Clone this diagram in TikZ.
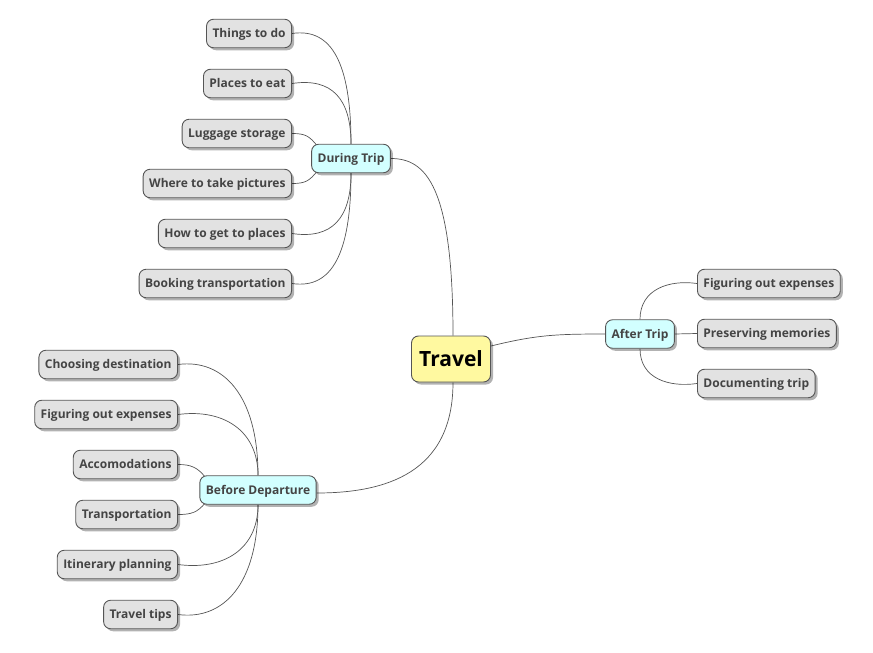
\documentclass[tikz,border=0pt]{standalone}
\usepackage{fontspec}
\setmainfont{Open Sans}
\usetikzlibrary{shadows,backgrounds}
\definecolor{leafgray}{HTML}{E2E2E2}
\definecolor{midcyan}{HTML}{D2FFFF}
\definecolor{rootyellow}{HTML}{FFF9A0}
\definecolor{edgecol}{HTML}{555555}
\definecolor{txtcol}{HTML}{444444}
\tikzset{
  base/.style={draw=edgecol, line width=0.9pt, rounded corners=7pt, minimum height=28.5pt,
    inner xsep=6pt, inner ysep=0pt, text=txtcol, text height=8.6pt, text depth=0pt,
    font=\bfseries\fontsize{12}{14}\selectfont,
    drop shadow={shadow xshift=2.5pt, shadow yshift=-2.5pt, fill=black, opacity=0.3}},
  leaf/.style={base, fill=leafgray},
  mid/.style={base, fill=midcyan},
  rootn/.style={base, fill=rootyellow, minimum height=46pt, minimum width=79pt, text=black,
    text height=15pt, font=\bfseries\fontsize{21}{24}\selectfont},
  conn/.style={draw=edgecol, line width=0.7pt}
}
\begin{document}
\begin{tikzpicture}[x=1pt,y=-1pt]
\useasboundingbox (0,0) rectangle (873,653);
% root and level 1
\node[rootn] (travel) at (451,359) {Travel};
\node[mid] (dt) at (351,158.5) {During Trip};
\node[mid] (at) at (640,334) {After Trip};
\node[mid] (bd) at (258,490) {Before Departure};
% During Trip children
\node[leaf, anchor=east] (d1) at (292,33.5) {Things to do};
\node[leaf, anchor=east] (d2) at (292,83.5) {Places to eat};
\node[leaf, anchor=east] (d3) at (292,133.5) {Luggage storage};
\node[leaf, anchor=east] (d4) at (292,183.5) {Where to take pictures};
\node[leaf, anchor=east] (d5) at (292,233.5) {How to get to places};
\node[leaf, anchor=east] (d6) at (292,283.5) {Booking transportation};
% After Trip children
\node[leaf, anchor=west] (a1) at (697,283.5) {Figuring out expenses};
\node[leaf, anchor=west] (a2) at (697,333.5) {Preserving memories};
\node[leaf, anchor=west] (a3) at (697,383.5) {Documenting trip};
% Before Departure children
\node[leaf, anchor=east] (b1) at (178,364.5) {Choosing destination};
\node[leaf, anchor=east] (b2) at (178,414.5) {Figuring out expenses};
\node[leaf, anchor=east] (b3) at (178,464.5) {Accomodations};
\node[leaf, anchor=east] (b4) at (178,514.5) {Transportation};
\node[leaf, anchor=east] (b5) at (178,564.5) {Itinerary planning};
\node[leaf, anchor=east] (b6) at (178,614.5) {Travel tips};
\begin{scope}[on background layer]
% root connectors
\draw[conn] ([xshift=2pt]travel.north) .. controls +(0,-150) and +(35,0) .. (dt.east);
\draw[conn] ([yshift=13pt]travel.east) .. controls +(45,-11) and +(-50,0) .. (at.west);
\draw[conn] ([xshift=2pt]travel.south) .. controls +(0,90) and +(70,0) .. ([yshift=-3pt]bd.east);
% During Trip
\draw[conn] (dt.north) .. controls +(0,-80) and +(40,-6) .. (d1.east);
\draw[conn] (dt.north) .. controls +(0,-45) and +(40,-6) .. (d2.east);
\draw[conn] ([xshift=6pt,yshift=-2pt]dt.north west) .. controls +(-8,-10) and +(13,0) .. (d3.east);
\draw[conn] ([xshift=6pt,yshift=2pt]dt.south west) .. controls +(-8,10) and +(13,0) .. (d4.east);
\draw[conn] (dt.south) .. controls +(0,45) and +(40,6) .. (d5.east);
\draw[conn] (dt.south) .. controls +(0,80) and +(40,6) .. (d6.east);
% After Trip
\draw[conn] (at.north) .. controls +(0,-30) and +(-28,-4) .. (a1.west);
\draw[conn] (at.east) -- (a2.west);
\draw[conn] (at.south) .. controls +(0,30) and +(-28,4) .. (a3.west);
% Before Departure
\draw[conn] (bd.north) .. controls +(0,-80) and +(45,-6) .. (b1.east);
\draw[conn] (bd.north) .. controls +(0,-45) and +(45,-6) .. (b2.east);
\draw[conn] ([xshift=6pt,yshift=-2pt]bd.north west) .. controls +(-8,-10) and +(13,0) .. (b3.east);
\draw[conn] ([xshift=6pt,yshift=2pt]bd.south west) .. controls +(-8,10) and +(13,0) .. (b4.east);
\draw[conn] (bd.south) .. controls +(0,45) and +(45,6) .. (b5.east);
\draw[conn] (bd.south) .. controls +(0,80) and +(45,6) .. (b6.east);
\end{scope}
\end{tikzpicture}
\end{document}
